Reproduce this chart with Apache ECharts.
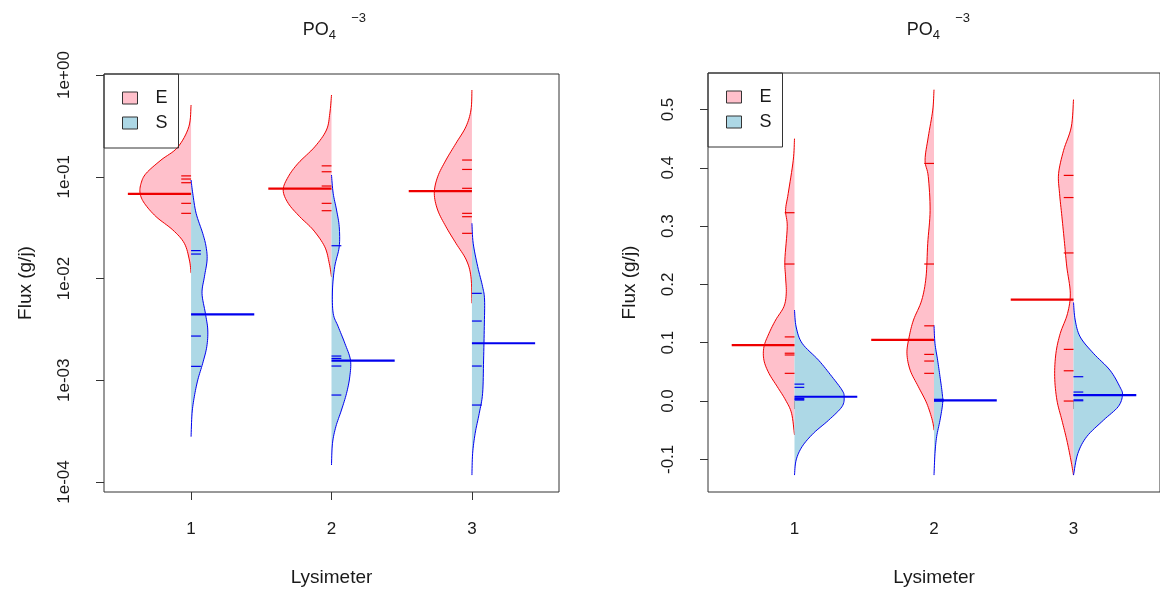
<!DOCTYPE html>
<html><head><meta charset="utf-8">
<script src="https://cdn.jsdelivr.net/npm/echarts@6/dist/echarts.min.js"></script>
<style>html,body{margin:0;padding:0;background:#fff}#c{width:1160px;height:594px}</style>
</head><body><div id="c"></div><script>
// ---------------- DATA ----------------
const groups = [1, 2, 3];
const xTickLabels = ['1', '2', '3'];
const legendNames = ['E', 'S'];

// Left panel (log scale): density outline [flux, half-width in lysimeter units]
const logE1 = [[0.507,0],[0.310,0.016],[0.195,0.095],[0.146,0.214],[0.108,0.320],[0.0862,0.356],[0.0688,0.363],[0.0548,0.332],[0.0405,0.249],[0.0300,0.130],[0.0222,0.048],[0.0152,0.012],[0.0113,0]];
const logS1 = [[0.0929,0],[0.0688,0.012],[0.0437,0.036],[0.0278,0.083],[0.0205,0.107],[0.0152,0.114],[0.0104,0.095],[0.00715,0.078],[0.00455,0.102],[0.00312,0.119],[0.00214,0.112],[0.00147,0.083],[0.00101,0.048],[0.000689,0.023],[0.000473,0.007],[0.000279,0]];
const logE2 = [[0.636,0],[0.420,0.012],[0.288,0.036],[0.197,0.119],[0.136,0.237],[0.100,0.308],[0.0741,0.344],[0.0548,0.308],[0.0405,0.226],[0.0300,0.130],[0.0205,0.048],[0.0141,0.016],[0.0104,0]];
const logS2 = [[0.104,0],[0.0688,0.012],[0.0471,0.036],[0.0323,0.055],[0.0205,0.055],[0.0131,0.023],[0.00771,0.007],[0.00455,0.012],[0.00336,0.048],[0.00231,0.095],[0.00158,0.135],[0.00108,0.130],[0.000744,0.107],[0.000510,0.071],[0.000350,0.031],[0.000240,0.007],[0.000147,0]];
const logE3 = [[0.712,0],[0.453,0.007],[0.310,0.043],[0.213,0.114],[0.146,0.185],[0.100,0.244],[0.0688,0.268],[0.0471,0.244],[0.0323,0.185],[0.0222,0.114],[0.0152,0.040],[0.0104,0.007],[0.00571,0]];
const logS3 = [[0.0349,0],[0.0222,0.009],[0.0131,0.041],[0.00831,0.076],[0.00615,0.090],[0.00336,0.088],[0.00158,0.083],[0.000744,0.076],[0.000473,0.052],[0.000301,0.023],[0.000191,0.005],[0.000117,0]];
// Left panel: individual observations (bean lines) and averages
const logLinesE1 = [0.102, 0.095, 0.0874, 0.0548, 0.0437];
const logLinesS1 = [0.0188, 0.0174, 0.00272, 0.00137];
const logLinesE2 = [0.128, 0.112, 0.0811, 0.0548, 0.0464];
const logLinesS2 = [0.0210, 0.00173, 0.00164, 0.00138, 0.000716];
const logLinesE3 = [0.146, 0.118, 0.0770, 0.0437, 0.0405, 0.0278];
const logLinesS3 = [0.00715, 0.00382, 0.00138, 0.000571];
const logMeansE = [0.068, 0.0763, 0.0724];
const logMeansS = [0.00445, 0.00156, 0.00231];
const logTicks = [0.0001, 0.001, 0.01, 0.1, 1];
const logTickLabels = ['1e-04', '1e-03', '1e-02', '1e-01', '1e+00'];

// Right panel (linear scale)
const linE1 = [[0.450,0],[0.413,0.009],[0.356,0.045],[0.327,0.064],[0.299,0.052],[0.242,0.069],[0.213,0.064],[0.185,0.059],[0.162,0.076],[0.139,0.135],[0.116,0.183],[0.093,0.219],[0.070,0.219],[0.0475,0.183],[0.0245,0.123],[0.0017,0.064],[-0.021,0.021],[-0.058,0]];
const linS1 = [[0.156,0],[0.127,0.012],[0.099,0.055],[0.070,0.173],[0.042,0.268],[0.019,0.340],[0.0074,0.356],[-0.0098,0.340],[-0.033,0.244],[-0.055,0.137],[-0.078,0.055],[-0.101,0.012],[-0.127,0]];
const linE2 = [[0.534,0],[0.499,0.009],[0.453,0.041],[0.413,0.064],[0.385,0.041],[0.327,0.028],[0.270,0.045],[0.213,0.057],[0.173,0.088],[0.139,0.147],[0.110,0.178],[0.082,0.194],[0.053,0.171],[0.0245,0.112],[-0.0039,0.052],[-0.033,0.012],[-0.050,0]];
const linS2 = [[0.130,0],[0.099,0.007],[0.070,0.026],[0.042,0.043],[0.013,0.059],[-0.004,0.062],[-0.033,0.043],[-0.061,0.019],[-0.090,0.007],[-0.127,0]];
const linE3 = [[0.517,0],[0.470,0.016],[0.430,0.071],[0.390,0.107],[0.356,0.100],[0.316,0.083],[0.270,0.064],[0.230,0.048],[0.185,0.023],[0.150,0.043],[0.116,0.095],[0.082,0.126],[0.042,0.135],[0.0017,0.119],[-0.033,0.083],[-0.067,0.048],[-0.101,0.019],[-0.127,0]];
const linS3 = [[0.169,0],[0.139,0.012],[0.110,0.048],[0.082,0.142],[0.053,0.261],[0.0245,0.332],[0.0103,0.351],[-0.0098,0.320],[-0.033,0.214],[-0.061,0.095],[-0.090,0.031],[-0.127,0]];
const linLinesE1 = [0.323, 0.235, 0.110, 0.082, 0.079, 0.0475];
const linLinesS1 = [0.029, 0.0235, 0.0046, 0.003, 0.0017];
const linLinesE2 = [0.4075, 0.235, 0.129, 0.080, 0.0686, 0.0475];
const linLinesS2 = [0.003, 0.000];
const linLinesE3 = [0.387, 0.349, 0.254, 0.0886, 0.0519, 0.000];
const linLinesS3 = [0.0417, 0.0154, 0.0103, 0.002, 0.0005];
const linMeansE = [0.096, 0.105, 0.174];
const linMeansS = [0.0074, 0.001, 0.0103];
const linTicks = [-0.1, 0, 0.1, 0.2, 0.3, 0.4, 0.5];
const linTickLabels = ['-0.1', '0.0', '0.1', '0.2', '0.3', '0.4', '0.5'];

// ---------------- STYLE ----------------
const FONT = '"Liberation Sans", Arial, Helvetica, sans-serif';
const TXT = '#1a1a1a';
const AX = '#333333';
const PINK = '#FFC0CB', LBLUE = '#ADD8E6', RED = '#ee0000', BLUE = '#0000ee';
const BEAN_LINE = 0.07, MEAN_LINE = 0.45;

function catmull(pts, n) {
  const out = [];
  for (let i = 0; i < pts.length - 1; i++) {
    const p0 = pts[Math.max(i - 1, 0)], p1 = pts[i], p2 = pts[i + 1], p3 = pts[Math.min(i + 2, pts.length - 1)];
    for (let k = 0; k < n; k++) {
      const t = k / n, t2 = t * t, t3 = t2 * t;
      const f = (a, b, c, d) => 0.5 * ((2 * b) + (-a + c) * t + (2 * a - 5 * b + 4 * c - d) * t2 + (-a + 3 * b - 3 * c + d) * t3);
      out.push([f(p0[0], p1[0], p2[0], p3[0]), f(p0[1], p1[1], p2[1], p3[1])]);
    }
  }
  out.push(pts[pts.length - 1]);
  return out;
}

function densitySeries(name, gi, profiles, means, side, fill, stroke) {
  return {
    type: 'custom', name, xAxisIndex: gi, yAxisIndex: gi, silent: true,
    itemStyle: { color: fill },
    data: groups.map((g, i) => [g, means[i]]),
    encode: { x: 0, y: 1 },
    renderItem(params, api) {
      const g = api.value(0);
      const prof = profiles[params.dataIndex];
      const cx = api.coord([g, prof[0][0]])[0];
      const pts = prof.map(([v, w]) => api.coord([g + side * w, v]));
      const sm = catmull(pts, 8).map(p => [side < 0 ? Math.min(p[0], cx) : Math.max(p[0], cx), p[1]]);
      return { type: 'group', children: [
        { type: 'polygon', shape: { points: sm }, style: { fill: fill, stroke: null } },
        { type: 'polyline', shape: { points: sm }, style: { fill: null, stroke: stroke, lineWidth: 1 } }
      ] };
    }
  };
}

function lineSeries(name, gi, lists, side, len, color, width) {
  const data = [];
  lists.forEach((arr, i) => arr.forEach(v => data.push([groups[i], v])));
  return {
    type: 'custom', name, xAxisIndex: gi, yAxisIndex: gi, silent: true, data,
    encode: { x: 0, y: 1 },
    renderItem(params, api) {
      const g = api.value(0), v = api.value(1);
      const a = api.coord([g, v]), b = api.coord([g + side * len, v]);
      return { type: 'line', shape: { x1: a[0], y1: a[1], x2: b[0], y2: b[1] }, style: { stroke: color, lineWidth: width } };
    }
  };
}

function pickLabel(ticks, labels, isLog) {
  return v => {
    let best = 0, bd = Infinity;
    ticks.forEach((t, i) => {
      const d = isLog ? Math.abs(Math.log10(v) - Math.log10(t)) : Math.abs(v - t);
      if (d < bd) { bd = d; best = i; }
    });
    return labels[best];
  };
}

const txt = (size) => ({ fontSize: size, color: TXT, fontFamily: FONT });
const TICK_FS = 17, NAME_FS = 19;

function xAxis(gi) {
  return {
    type: 'value', gridIndex: gi, min: 0.38, max: 3.62,
    axisLine: { show: false }, splitLine: { show: false },
    axisTick: { show: true, customValues: groups, length: 8, lineStyle: { color: AX } },
    axisLabel: Object.assign({ customValues: groups, margin: 29, formatter: pickLabel(groups, xTickLabels, false) }, txt(TICK_FS)),
    name: 'Lysimeter', nameLocation: 'middle', nameGap: 76, nameTextStyle: txt(NAME_FS)
  };
}

function mkLegend(left, top) {
  return {
    left, top, orient: 'vertical', selectedMode: false,
    padding: [15, 11, 16, 18], itemGap: 7, itemWidth: 15, itemHeight: 12,
    borderColor: AX, borderWidth: 1, icon: 'rect',
    textStyle: Object.assign({ padding: [0, 0, 0, 13] }, txt(18)),
    data: [
      { name: legendNames[0], itemStyle: { color: PINK, borderColor: AX, borderWidth: 1 } },
      { name: legendNames[1], itemStyle: { color: LBLUE, borderColor: AX, borderWidth: 1 } }
    ]
  };
}

function titleGraphic(x0) {
  return [
    { type: 'text', x: x0, y: 29.7, style: { text: 'PO', font: '18px ' + FONT, fill: TXT, align: 'left', verticalAlign: 'middle' } },
    { type: 'text', x: x0 + 26, y: 35.5, style: { text: '4', font: '13px ' + FONT, fill: TXT, align: 'left', verticalAlign: 'middle' } },
    { type: 'text', x: x0 + 48.5, y: 18, style: { text: '\u2212' + '3', font: '13px ' + FONT, fill: TXT, align: 'left', verticalAlign: 'middle' } }
  ];
}

const chart = echarts.init(document.getElementById('c'), null, { renderer: 'canvas' });
chart.setOption({
  animation: false,
  backgroundColor: '#ffffff',
  textStyle: { fontFamily: FONT },
  grid: [
    { left: 104, top: 74, width: 455, height: 418, show: true, borderColor: AX, borderWidth: 1, backgroundColor: 'transparent' },
    { left: 708, top: 73, width: 455, height: 419, show: true, borderColor: AX, borderWidth: 1, backgroundColor: 'transparent' }
  ],
  xAxis: [xAxis(0), xAxis(1)],
  yAxis: [
    {
      type: 'log', logBase: 10, gridIndex: 0, min: 7.98e-5, max: 1.023,
      axisLine: { show: false }, splitLine: { show: false },
      axisTick: { show: true, customValues: logTicks, length: 8, lineStyle: { color: AX } },
      axisLabel: Object.assign({ customValues: logTicks, rotate: 90, margin: 31, formatter: pickLabel(logTicks, logTickLabels, true) }, txt(TICK_FS)),
      name: 'Flux (g/j)', nameLocation: 'middle', nameRotate: 90, nameGap: 69, nameTextStyle: txt(NAME_FS)
    },
    {
      type: 'value', gridIndex: 1, min: -0.156, max: 0.5626,
      axisLine: { show: false }, splitLine: { show: false },
      axisTick: { show: true, customValues: linTicks, length: 8, lineStyle: { color: AX } },
      axisLabel: Object.assign({ customValues: linTicks, rotate: 90, margin: 31, formatter: pickLabel(linTicks, linTickLabels, false) }, txt(TICK_FS)),
      name: 'Flux (g/j)', nameLocation: 'middle', nameRotate: 90, nameGap: 69, nameTextStyle: txt(NAME_FS)
    }
  ],
  legend: [mkLegend(104, 74), mkLegend(708, 73)],
  graphic: titleGraphic(302.7).concat(titleGraphic(906.7)),
  series: [
    densitySeries('E', 0, [logE1, logE2, logE3], logMeansE, -1, PINK, RED),
    densitySeries('S', 0, [logS1, logS2, logS3], logMeansS, 1, LBLUE, BLUE),
    lineSeries('E lines', 0, [logLinesE1, logLinesE2, logLinesE3], -1, BEAN_LINE, RED, 1.2),
    lineSeries('S lines', 0, [logLinesS1, logLinesS2, logLinesS3], 1, BEAN_LINE, BLUE, 1.2),
    lineSeries('E mean', 0, [[logMeansE[0]], [logMeansE[1]], [logMeansE[2]]], -1, MEAN_LINE, RED, 2.2),
    lineSeries('S mean', 0, [[logMeansS[0]], [logMeansS[1]], [logMeansS[2]]], 1, MEAN_LINE, BLUE, 2.2),
    densitySeries('E', 1, [linE1, linE2, linE3], linMeansE, -1, PINK, RED),
    densitySeries('S', 1, [linS1, linS2, linS3], linMeansS, 1, LBLUE, BLUE),
    lineSeries('E lines', 1, [linLinesE1, linLinesE2, linLinesE3], -1, BEAN_LINE, RED, 1.2),
    lineSeries('S lines', 1, [linLinesS1, linLinesS2, linLinesS3], 1, BEAN_LINE, BLUE, 1.2),
    lineSeries('E mean', 1, [[linMeansE[0]], [linMeansE[1]], [linMeansE[2]]], -1, MEAN_LINE, RED, 2.2),
    lineSeries('S mean', 1, [[linMeansS[0]], [linMeansS[1]], [linMeansS[2]]], 1, MEAN_LINE, BLUE, 2.2)
  ]
});
</script></body></html>
